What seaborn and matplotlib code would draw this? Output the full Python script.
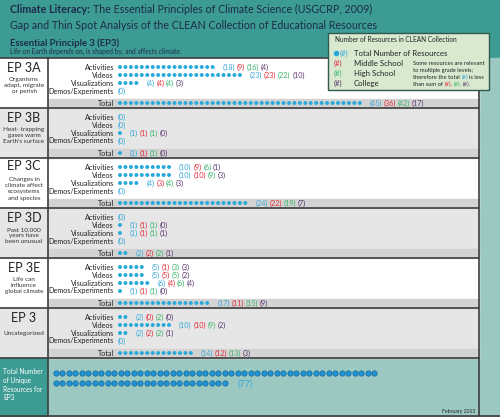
import numpy as np
import pandas as pd
import matplotlib
matplotlib.use("Agg")
import matplotlib.pyplot as plt
import seaborn as sns
from matplotlib.patches import Rectangle

# ---------------- data ----------------
sections = ["EP 3A", "EP 3B", "EP 3C", "EP 3D", "EP 3E", "EP 3"]
section_desc = [
    "Organisms\nadapt, migrate\nor perish",
    "Heat- trapping\ngases warm\nEarth's surface",
    "Changes in\nclimate affect\necosystems\nand species",
    "Past 10,000\nyears have\nbeen unusual",
    "Life can\ninfluence\nglobal climate",
    "Uncategorized",
]
row_types = ["Activities", "Videos", "Visualizations", "Demos/Experiments", "Total"]

total_n = [
    [18, 23, 4, 0, 45],
    [0, 0, 1, 0, 1],
    [10, 10, 4, 0, 24],
    [0, 1, 1, 0, 2],
    [5, 5, 6, 1, 17],
    [2, 10, 2, 0, 14],
]
middle_n = [
    [9, 23, 4, 0, 36],
    [0, 0, 1, 0, 1],
    [9, 10, 3, 0, 22],
    [0, 1, 1, 0, 2],
    [1, 5, 4, 1, 11],
    [0, 10, 2, 0, 12],
]
high_n = [
    [16, 22, 4, 0, 42],
    [0, 0, 1, 0, 1],
    [6, 9, 4, 0, 19],
    [0, 1, 1, 0, 2],
    [3, 5, 6, 1, 15],
    [2, 9, 2, 0, 13],
]
college_n = [
    [4, 10, 3, 0, 17],
    [0, 0, 0, 0, 0],
    [1, 3, 3, 0, 7],
    [0, 0, 1, 0, 1],
    [3, 2, 4, 0, 9],
    [0, 2, 1, 0, 3],
]
unique_total = 77
unique_per_row = 50

# ---------------- style ----------------
sns.set_theme(style="white")
plt.rcParams["font.family"] = ["Lato", "DejaVu Sans"]

TEAL = "#3c9b93"
LTEAL = "#9cc8c2"
NAVY = "#1d2b4a"
CYAN_DOT = "#27aadb"
CYAN = "#3aa9d9"
RED = "#e3303c"
GREEN = "#3bb56c"
PURPLE = "#5c3b6e"
GREY = "#e6e6e6"
TGREY = "#d3d3d3"
LINE = "#3d3d3d"

W, H = 500, 417
fig = plt.figure(figsize=(5.0, 4.17), dpi=100, facecolor=TEAL)
ax = fig.add_axes([0, 0, 1, 1])
ax.set_facecolor(TEAL)

# layout
SEC_TOP0 = 57.5
SEC_H = 50.0
LEFT_W = 48.0
RIGHT_X = 478.5
X0 = 120.0
DX = 5.45
LABEL_X = 114.0


def chain(x, y, parts, fs, gap=1.0, va="center", z=6):
    s, c, w = parts[0]
    prev = ax.text(x, y, s, color=c, fontsize=fs, fontweight=w, ha="left", va=va, zorder=z)
    for s, c, w in parts[1:]:
        yy = 0.5 if va == "center" else 0.0
        prev = ax.annotate(s, xy=(1, yy), xycoords=prev, xytext=(gap, 0),
                           textcoords="offset points", ha="left",
                           va=va, color=c, fontsize=fs, fontweight=w, zorder=z)
    return prev


# backgrounds
ax.add_patch(Rectangle((0, 0), W, SEC_TOP0, color=TEAL, zorder=0))
ax.add_patch(Rectangle((RIGHT_X, SEC_TOP0), W - RIGHT_X, H - SEC_TOP0, color=LTEAL, zorder=0))
dots = []
for k, name in enumerate(sections):
    top = SEC_TOP0 + k * SEC_H
    bg = "white" if k % 2 == 0 else GREY
    ax.add_patch(Rectangle((0, top), RIGHT_X, SEC_H, color=bg, zorder=0))
    ax.add_patch(Rectangle((LEFT_W, top + 41), RIGHT_X - LEFT_W, SEC_H - 41, color=TGREY, zorder=0.5))
    ax.plot([0, RIGHT_X], [top, top], color=LINE, lw=1.2, zorder=3)
    # left labels
    ty = top + (8 if name == "EP 3C" else 10.5)
    ax.text(24, ty, name, ha="center", va="center", fontsize=9.0, color="#222222")
    if name != "EP 3":
        ax.text(24, top + 19.5, section_desc[k], ha="center", va="top",
                fontsize=4.6, color="#333333", linespacing=1.3)
    else:
        ax.text(24, top + 26.5, section_desc[k], ha="center", va="center",
                fontsize=4.6, color="#333333")
    for r, rt in enumerate(row_types):
        y = top + 9.5 + 8 * r if r < 4 else top + 45.5
        ax.text(LABEL_X, y, rt, ha="right", va="center", fontsize=5.2, color="#222222")
        n = total_n[k][r]
        for i in range(n):
            dots.append({"x": X0 + i * DX, "y": y})
        tx = X0 - 2 if n == 0 else X0 + (n - 1) * DX + 10
        parts = [(f"({n})", CYAN, "normal")]
        if n > 0:
            parts += [(f"({middle_n[k][r]})", RED, "normal"),
                      (f"({high_n[k][r]})", GREEN, "normal"),
                      (f"({college_n[k][r]})", PURPLE, "normal")]
        chain(tx, y, parts, 5.2, gap=1.2, z=3)

dots_df = pd.DataFrame(dots)
sns.scatterplot(data=dots_df, x="x", y="y", s=8, color=CYAN_DOT, edgecolor="none",
                linewidth=0, ax=ax, legend=False, zorder=4)

# bottom section
BOT = SEC_TOP0 + len(sections) * SEC_H
ax.add_patch(Rectangle((0, BOT), LEFT_W, H - BOT, color=TEAL, zorder=0))
ax.add_patch(Rectangle((LEFT_W, BOT), RIGHT_X - LEFT_W, H - BOT, color=LTEAL, zorder=0))
ax.plot([0, RIGHT_X], [BOT, BOT], color=LINE, lw=1.2, zorder=3)
ax.plot([0, W], [415.5, 415.5], color=LINE, lw=1.2, zorder=3)
ax.text(3, 368, "Total Number\nof Unique\nResources for\nEP3", ha="left", va="top",
        fontsize=4.7, color="white", linespacing=1.3)
udots = pd.DataFrame({"idx": np.arange(unique_total)})
udots["x"] = 56 + (udots["idx"] % unique_per_row) * 6.49
udots["y"] = 373 + (udots["idx"] // unique_per_row) * 10
sns.scatterplot(data=udots, x="x", y="y", s=15, color="#2193d3", edgecolor="#15679c",
                linewidth=0.5, ax=ax, legend=False, zorder=4)
ax.text(udots["x"].iloc[-1] + 13, 384, f"({unique_total})", ha="left", va="center",
        fontsize=6.5, color=CYAN)
ax.text(475, 411, "February 2013", ha="right", va="center", fontsize=3.7, color="#222222")

# vertical lines
ax.plot([LEFT_W, LEFT_W], [SEC_TOP0, 415.5], color=LINE, lw=1.2, zorder=3)
ax.plot([RIGHT_X, RIGHT_X], [SEC_TOP0, 415.5], color=LINE, lw=1.2, zorder=3)

# header text
chain(10, 15, [("Climate Literacy:", NAVY, "bold"),
               ("The Essential Principles of Climate Science (USGCRP, 2009)", NAVY, "normal")],
      7.65, gap=2.0, va="bottom", z=2)
ax.text(10, 25, "Gap and Thin Spot Analysis of the CLEAN Collection of Educational Resources",
        ha="left", va="center", fontsize=7.65, color=NAVY)
ax.text(10, 43, "Essential Principle 3 (EP3)", ha="left", va="center", fontsize=6.8,
        fontweight="bold", color=NAVY)
ax.text(10, 51.5, "Life on Earth depends on, is shaped by, and affects climate.", ha="left",
        va="center", fontsize=4.8, color=NAVY)

# legend box
ax.add_patch(Rectangle((328, 33), 161, 57, facecolor="#d8e9d0", edgecolor="#2f5a4c",
                       lw=1.0, zorder=5))
ax.text(335, 39.5, "Number of Resources in CLEAN Collection", ha="left", va="center",
        fontsize=4.7, color="#222222", zorder=6)
ax.scatter([336], [53], s=9, color=CYAN_DOT, zorder=6)
leg_rows = [("(#)", CYAN, "Total Number of Resources", 53, 339.5),
            ("(#)", RED, "Middle School", 63, 333.5),
            ("(#)", GREEN, "High School", 73, 333.5),
            ("(#)", PURPLE, "College", 83, 333.5)]
for sym, c, lab, y, sx in leg_rows:
    ax.text(sx, y, sym, ha="left", va="center", fontsize=5.4, color=c, zorder=6)
    ax.text(354, y, lab, ha="left", va="center", fontsize=5.6, color="#222222", zorder=6)
note_fs = 4.15
ax.text(413, 63, "Some resources are relevant", fontsize=note_fs, color="#222222",
        ha="left", va="center", zorder=6)
ax.text(413, 70, "to multiple grade levels;", fontsize=note_fs, color="#222222",
        ha="left", va="center", zorder=6)
chain(413, 77, [("therefore the total", "#222222", "normal"), ("(#)", CYAN, "normal"),
                ("is less", "#222222", "normal")], note_fs, gap=1.1)
chain(413, 84, [("than sum of", "#222222", "normal"), ("(#),", RED, "normal"),
                ("(#),", GREEN, "normal"), ("(#).", PURPLE, "normal")], note_fs, gap=1.1)

ax.set_xlim(0, W)
ax.set_ylim(H, 0)
ax.axis("off")
fig.savefig("out.png", dpi=100, facecolor=TEAL)
